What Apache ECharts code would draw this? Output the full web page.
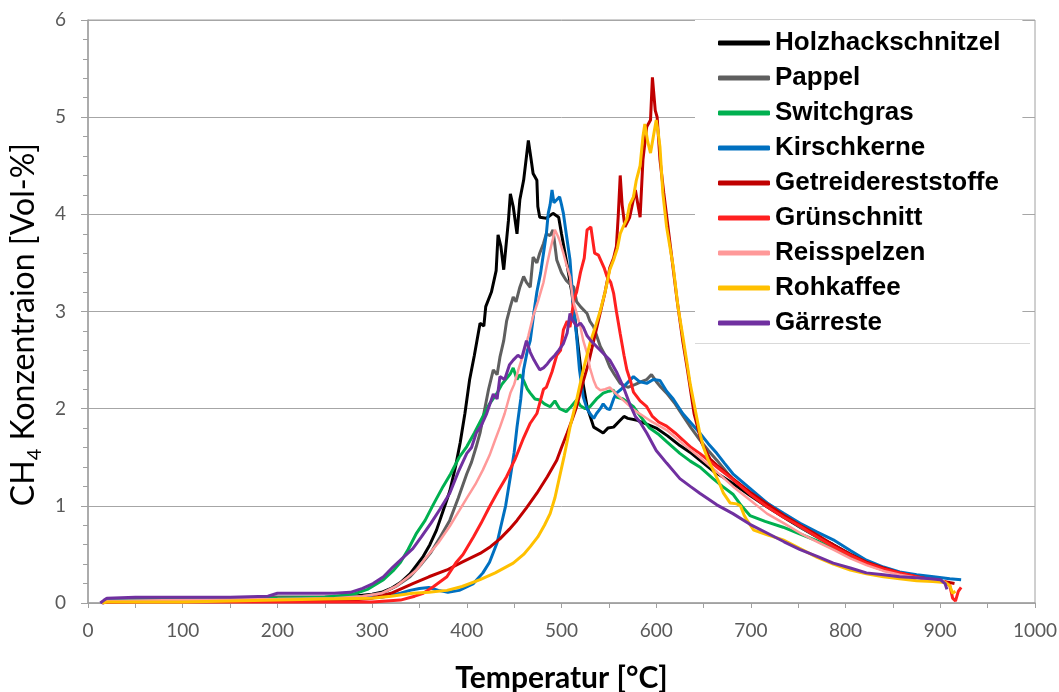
<!DOCTYPE html>
<html><head><meta charset="utf-8">
<script src="https://cdn.jsdelivr.net/npm/echarts@6/dist/echarts.min.js"></script>
<style>html,body{margin:0;padding:0;background:#fff}#c{width:1059px;height:692px}</style>
</head><body><div id="c"></div>
<script>
// Temperatur [°C] , CH4 [Vol-%]
const seriesNames = ['Holzhackschnitzel','Pappel','Switchgras','Kirschkerne','Getreidereststoffe','Grünschnitt','Reisspelzen','Rohkaffee','Gärreste'];
const xTicks = [0,100,200,300,400,500,600,700,800,900,1000];
const yTicks = [0,1,2,3,4,5,6];

const holzhackschnitzel = [[15,0],[20,0.03],[50,0.04],[100,0.04],[150,0.05],[200,0.06],[250,0.06],[280,0.07],[300,0.09],[310,0.11],[320,0.15],[330,0.21],[340,0.3],[347,0.39],[354,0.48],[361,0.6],[368,0.75],[375,0.95],[382,1.15],[388,1.4],[393,1.65],[398,1.95],[403,2.3],[408,2.55],[414,2.88],[418,2.85],[420,3.05],[426,3.2],[431,3.42],[433,3.79],[436,3.67],[439,3.43],[444,3.94],[446,4.21],[449,4.08],[453,3.8],[456,4.15],[460,4.35],[465,4.76],[468,4.56],[470,4.42],[474,4.35],[475,4.08],[477,3.97],[484,3.96],[491,4.01],[497,3.97],[500,3.8],[505,3.53],[511,3.19],[516,2.77],[521,2.36],[527,2.02],[534,1.81],[539,1.78],[544,1.75],[549,1.8],[555,1.81],[562,1.88],[566,1.92],[570,1.9],[580,1.88],[590,1.84],[600,1.8],[612,1.72],[625,1.62],[636,1.55],[646,1.47],[660,1.36],[670,1.3],[681,1.23],[700,1.1],[717,0.99],[735,0.88],[752,0.78],[770,0.68],[787,0.6],[805,0.5],[822,0.43],[840,0.36],[857,0.31],[875,0.27],[890,0.24],[905,0.22]];

const pappel = [[15,0],[20,0.03],[50,0.04],[100,0.04],[150,0.05],[200,0.06],[250,0.06],[290,0.07],[310,0.1],[325,0.17],[340,0.27],[352,0.4],[362,0.52],[372,0.68],[382,0.85],[391,1.08],[400,1.33],[405,1.45],[410,1.61],[414,1.75],[418,1.95],[423,2.2],[428,2.4],[432,2.35],[435,2.53],[439,2.7],[442,2.9],[446,3.05],[449,3.15],[452,3.1],[456,3.25],[460,3.36],[463,3.3],[467,3.25],[470,3.56],[474,3.5],[477,3.6],[481,3.7],[484,3.8],[488,3.78],[491,3.84],[495,3.53],[500,3.4],[505,3.32],[509,3.28],[513,3.25],[516,3.1],[520,3.05],[527,2.98],[530,2.9],[534,2.84],[541,2.64],[546,2.55],[551,2.43],[556,2.35],[562,2.26],[570,2.22],[578,2.25],[585,2.28],[590,2.3],[595,2.35],[600,2.28],[605,2.22],[611,2.16],[620,2.05],[628,1.93],[637,1.8],[646,1.68],[655,1.57],[664,1.47],[681,1.27],[699,1.14],[717,1.03],[735,0.9],[752,0.78],[770,0.68],[787,0.58],[805,0.49],[822,0.41],[840,0.35],[857,0.31],[875,0.27],[890,0.24],[905,0.22]];

const switchgras = [[15,0],[20,0.02],[50,0.03],[100,0.04],[150,0.04],[200,0.05],[250,0.06],[280,0.09],[295,0.14],[312,0.24],[322,0.33],[330,0.42],[338,0.55],[347,0.72],[356,0.85],[365,1.02],[375,1.2],[383,1.33],[392,1.5],[400,1.61],[408,1.75],[417,1.92],[424,2.05],[432,2.16],[437,2.25],[441,2.3],[446,2.36],[449,2.42],[453,2.3],[456,2.35],[460,2.29],[464,2.2],[467,2.16],[472,2.1],[477,2.09],[482,2.05],[488,2.02],[493,2.08],[498,2.0],[505,1.97],[510,2.02],[516,2.09],[520,2.03],[525,2.0],[530,2.02],[537,2.1],[544,2.16],[550,2.18],[555,2.19],[558,2.12],[565,2.1],[576,2.02],[585,1.9],[593,1.8],[602,1.74],[611,1.66],[625,1.54],[636,1.46],[646,1.4],[660,1.28],[670,1.2],[681,1.12],[690,1.0],[699,0.9],[715,0.84],[734,0.78],[752,0.71],[770,0.64],[787,0.56],[805,0.48],[822,0.4],[840,0.34],[857,0.3],[875,0.27],[890,0.24],[905,0.22]];

const kirschkerne = [[15,0],[20,0.02],[100,0.02],[200,0.03],[280,0.04],[310,0.06],[330,0.1],[340,0.13],[350,0.15],[360,0.16],[370,0.13],[380,0.11],[392,0.13],[407,0.2],[417,0.31],[424,0.42],[432,0.62],[436,0.79],[441,1.0],[446,1.3],[450,1.55],[453,1.81],[457,2.1],[460,2.4],[464,2.6],[467,2.7],[471,3.0],[474,3.2],[478,3.4],[481,3.6],[484,3.8],[486,4.01],[488,4.1],[490,4.25],[492,4.12],[495,4.15],[498,4.18],[500,4.1],[502,4.01],[505,3.8],[509,3.53],[512,3.12],[516,2.74],[519,2.4],[523,2.12],[527,2.0],[530,1.95],[534,1.9],[537,1.95],[541,2.0],[544,2.05],[548,2.0],[551,1.99],[555,2.1],[558,2.16],[563,2.2],[569,2.26],[576,2.33],[582,2.28],[590,2.26],[597,2.3],[604,2.29],[611,2.18],[618,2.1],[628,1.95],[637,1.85],[646,1.75],[655,1.64],[664,1.54],[672,1.44],[681,1.33],[699,1.18],[717,1.03],[735,0.92],[752,0.82],[770,0.73],[787,0.65],[805,0.54],[822,0.44],[840,0.37],[857,0.32],[875,0.29],[893,0.27],[910,0.25],[922,0.24]];

const getreidereststoffe = [[15,0],[20,0.01],[100,0.02],[200,0.02],[280,0.03],[300,0.05],[320,0.1],[343,0.2],[360,0.27],[379,0.34],[395,0.42],[414,0.51],[425,0.58],[435,0.66],[445,0.76],[453,0.85],[463,0.98],[474,1.13],[485,1.3],[495,1.47],[500,1.6],[506,1.75],[511,1.88],[516,2.02],[522,2.25],[528,2.45],[534,2.7],[540,2.95],[546,3.2],[551,3.45],[555,3.55],[558,3.67],[560,4.0],[562,4.4],[564,4.1],[567,3.87],[572,3.97],[578,4.25],[583,3.97],[586,4.56],[590,4.9],[594,4.97],[596,5.41],[599,5.07],[601,5.0],[604,4.56],[608,4.22],[615,3.67],[622,3.12],[628,2.7],[633,2.4],[640,1.95],[648,1.65],[657,1.48],[664,1.42],[681,1.28],[699,1.14],[717,1.02],[735,0.9],[752,0.8],[770,0.7],[787,0.6],[805,0.5],[822,0.42],[840,0.36],[857,0.31],[875,0.27],[890,0.24],[905,0.22],[915,0.2]];

const gruenschnitt = [[15,0],[20,0.01],[100,0.01],[200,0.01],[300,0.01],[330,0.03],[345,0.07],[354,0.1],[365,0.17],[379,0.27],[389,0.42],[396,0.5],[407,0.68],[415,0.82],[424,0.99],[433,1.15],[442,1.3],[451,1.48],[460,1.7],[467,1.85],[474,1.95],[481,2.2],[484,2.22],[490,2.38],[495,2.55],[499,2.6],[502,2.81],[506,2.9],[509,2.84],[513,3.12],[516,3.2],[520,3.4],[524,3.55],[527,3.84],[531,3.87],[535,3.6],[539,3.58],[541,3.56],[545,3.45],[548,3.36],[552,3.3],[555,3.19],[558,3.0],[562,2.77],[566,2.55],[569,2.4],[573,2.28],[576,2.17],[583,2.08],[590,2.02],[596,1.92],[603,1.86],[611,1.82],[620,1.75],[628,1.68],[637,1.6],[646,1.54],[664,1.4],[681,1.27],[699,1.12],[717,0.99],[735,0.88],[752,0.79],[770,0.68],[787,0.58],[805,0.49],[822,0.41],[840,0.35],[857,0.31],[875,0.27],[890,0.24],[905,0.22],[910,0.18],[913,0.05],[916,0.02],[919,0.12],[922,0.16]];

const reisspelzen = [[15,0],[20,0.02],[100,0.03],[200,0.04],[260,0.05],[290,0.07],[310,0.1],[325,0.17],[337,0.26],[347,0.34],[358,0.48],[370,0.62],[382,0.79],[392,0.95],[400,1.08],[409,1.22],[417,1.37],[424,1.52],[430,1.68],[435,1.81],[440,1.95],[446,2.16],[450,2.25],[455,2.42],[460,2.57],[465,2.75],[470,2.95],[475,3.1],[481,3.3],[485,3.5],[488,3.63],[491,3.75],[493,3.84],[496,3.78],[498,3.73],[502,3.6],[505,3.49],[509,3.36],[512,3.12],[516,2.98],[520,2.84],[523,2.7],[527,2.57],[530,2.42],[534,2.29],[537,2.22],[541,2.19],[546,2.2],[551,2.22],[558,2.15],[566,2.08],[576,1.99],[593,1.88],[611,1.78],[628,1.64],[646,1.5],[664,1.35],[681,1.2],[699,1.06],[717,0.92],[735,0.82],[752,0.72],[770,0.63],[787,0.55],[805,0.46],[822,0.39],[840,0.33],[857,0.29],[875,0.26],[890,0.24],[905,0.22]];

const rohkaffee = [[15,0],[20,0.01],[100,0.01],[150,0.02],[200,0.03],[250,0.04],[300,0.05],[320,0.07],[343,0.1],[360,0.11],[379,0.13],[395,0.17],[414,0.24],[430,0.31],[449,0.41],[460,0.5],[467,0.58],[475,0.68],[482,0.8],[488,0.92],[493,1.08],[498,1.3],[503,1.52],[509,1.81],[516,2.09],[523,2.4],[530,2.67],[536,2.85],[541,3.01],[546,3.2],[551,3.43],[555,3.53],[559,3.65],[562,3.8],[565,3.87],[569,3.95],[572,4.1],[576,4.18],[579,4.35],[583,4.5],[586,4.8],[588,4.93],[591,4.75],[594,4.63],[597,4.8],[600,4.97],[602,4.85],[604,4.69],[607,4.22],[611,3.87],[618,3.46],[623,3.05],[628,2.75],[632,2.5],[636,2.25],[641,2.0],[646,1.75],[650,1.6],[655,1.47],[660,1.37],[666,1.25],[671,1.13],[678,1.03],[685,1.02],[689,1.0],[693,0.9],[696,0.85],[703,0.75],[718,0.7],[734,0.65],[752,0.56],[770,0.47],[787,0.4],[805,0.34],[822,0.3],[840,0.27],[857,0.25],[875,0.23],[892,0.22],[905,0.21],[910,0.18],[913,0.1],[916,0.12]];

const gaerreste = [[13,0],[17,0.03],[20,0.05],[50,0.06],[100,0.06],[150,0.06],[190,0.07],[200,0.1],[230,0.1],[260,0.1],[277,0.11],[290,0.15],[301,0.2],[312,0.27],[322,0.37],[333,0.47],[343,0.56],[352,0.68],[362,0.82],[372,0.97],[382,1.13],[391,1.35],[400,1.54],[405,1.6],[410,1.75],[415,1.82],[421,1.95],[428,2.15],[432,2.1],[435,2.33],[440,2.3],[445,2.45],[449,2.5],[454,2.55],[458,2.52],[463,2.7],[467,2.58],[471,2.5],[474,2.45],[477,2.4],[481,2.42],[485,2.46],[488,2.5],[493,2.55],[497,2.6],[502,2.67],[506,2.78],[509,2.98],[511,2.92],[516,2.85],[520,2.88],[523,2.84],[527,2.75],[531,2.7],[537,2.64],[544,2.57],[551,2.5],[558,2.38],[565,2.23],[572,2.05],[578,1.92],[583,1.86],[590,1.75],[600,1.57],[611,1.44],[625,1.28],[636,1.2],[646,1.13],[664,1.01],[681,0.92],[699,0.81],[717,0.72],[735,0.63],[752,0.55],[770,0.48],[787,0.41],[805,0.36],[822,0.31],[840,0.29],[857,0.27],[875,0.26],[890,0.25],[900,0.24],[905,0.2],[907,0.14]];

const seriesData = [holzhackschnitzel, pappel, switchgras, kirschkerne, getreidereststoffe, gruenschnitt, reisspelzen, rohkaffee, gaerreste];
const colors = ['#000000','#5f5f5f','#00b050','#0070c0','#c00000','#ff2020','#ff9999','#ffc000','#7030a0'];

const chart = echarts.init(document.getElementById('c'), null, {renderer:'canvas'});
const axisGray = '#a0a0a0';
chart.setOption({
  animation: false,
  backgroundColor: '#ffffff',
  grid: { left: 88, right: 24, top: 20, bottom: 89, show: true, borderColor: axisGray, borderWidth: 1, outerBoundsMode: 'none', containLabel: false },
  legend: {
    data: seriesNames,
    orient: 'vertical',
    left: 695, top: 20,
    width: 337,
    padding: [10, 22, 7, 23],
    backgroundColor: '#ffffff',
    itemGap: 9,
    itemWidth: 52, itemHeight: 5,
    icon: 'roundRect',
    selectedMode: false,
    textStyle: { fontFamily: 'Liberation Sans', fontWeight: 'bold', fontSize: 26, color: '#000', lineHeight: 26 }
  },
  graphic: [{
    type: 'line', z: 100,
    shape: { x1: 695, y1: 343.5, x2: 1030, y2: 343.5 },
    style: { stroke: '#d9d9d9', lineWidth: 1 }
  }],
  xAxis: {
    type: 'value', min: xTicks[0], max: xTicks[xTicks.length-1], interval: 100,
    name: 'Temperatur [°C]', nameLocation: 'middle', nameGap: 60,
    nameTextStyle: { fontFamily: 'Lato', fontWeight: 'bold', fontSize: 30, color: '#000' },
    axisLine: { show: true, lineStyle: { color: axisGray, width: 1.5 } },
    axisTick: { show: true, length: 5, lineStyle: { color: axisGray } },
    minorTick: { show: true, splitNumber: 2, length: 5, lineStyle: { color: axisGray } },
    splitLine: { show: false },
    axisLabel: { color: '#595959', fontFamily: 'Lato', fontSize: 19, margin: 18, formatter: v => String(v) }
  },
  yAxis: {
    type: 'value', min: yTicks[0], max: yTicks[yTicks.length-1], interval: 1,
    name: 'CH{sub|4} Konzentraion [Vol-%]', nameLocation: 'middle', nameGap: 42,
    nameTextStyle: { fontFamily: 'Lato', fontSize: 32, color: '#000', lineHeight: 40, padding: [0, 26, 0, 0],
      rich: { sub: { fontFamily: 'Lato', fontSize: 20, lineHeight: 20, verticalAlign: 'bottom', color: '#000' } } },
    axisLine: { show: true, lineStyle: { color: axisGray, width: 1.5 } },
    axisTick: { show: true, length: 7, lineStyle: { color: axisGray } },
    minorTick: { show: true, splitNumber: 5, length: 5, lineStyle: { color: axisGray } },
    splitLine: { show: true, lineStyle: { color: '#a6a6a6', width: 1 } },
    axisLabel: { color: '#595959', fontFamily: 'Lato', fontSize: 19, margin: 22, formatter: v => String(v) }
  },
  series: seriesNames.map((n, i) => ({
    name: n, type: 'line', data: seriesData[i], showSymbol: false, symbol: 'none',
    color: colors[i],
    lineStyle: { color: colors[i], width: i === 6 ? 2.5 : 3 },
    z: 2 + i * 0.01
  }))
});
</script></body></html>
